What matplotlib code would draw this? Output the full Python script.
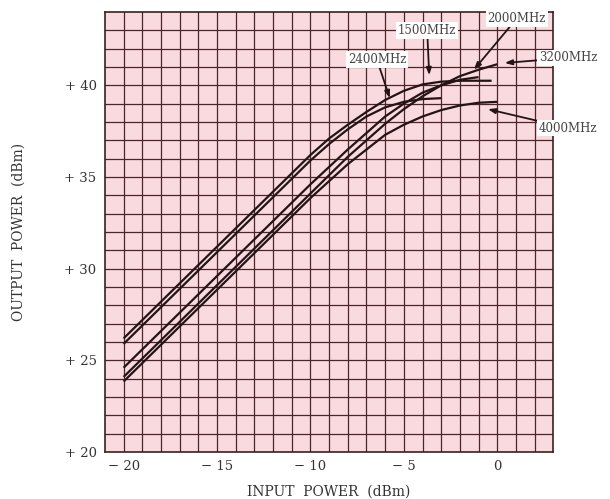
import matplotlib
matplotlib.use("Agg")
import matplotlib.pyplot as plt
import numpy as np

plt.rcParams['font.family'] = ['DejaVu Serif']

# input power (dBm) / output power (dBm) per frequency
x_1500 = [-20, -10, -9, -8, -7, -6, -5, -4, -3, -2, -0.3]
y_1500 = [26.2, 36.2, 37.1, 37.85, 38.55, 39.2, 39.7, 40.05, 40.2, 40.25, 40.25]

x_2400 = [-20, -10, -9, -8, -7, -6, -5, -4, -3]
y_2400 = [25.9, 35.9, 36.8, 37.6, 38.3, 38.8, 39.1, 39.25, 39.3]

x_2000 = [-20, -10, -8, -7, -6, -5, -4, -3, -2, -1]
y_2000 = [24.6, 34.6, 36.5, 37.4, 38.3, 39.0, 39.6, 40.0, 40.3, 40.45]

x_3200 = [-20, -10, -8, -7, -6, -5, -4, -3, -2, -1, 0]
y_3200 = [24.1, 34.1, 36.1, 37.0, 37.9, 38.7, 39.4, 40.0, 40.5, 40.85, 41.15]

x_4000 = [-20, -10, -8, -7, -6, -5, -4, -3, -2, -1, 0]
y_4000 = [23.85, 33.85, 35.7, 36.5, 37.3, 37.85, 38.3, 38.65, 38.9, 39.05, 39.1]

x_ticks = [-20, -15, -10, -5, 0]
x_labels = ['\u2212 20', '\u2212 15', '\u2212 10', '\u2212 5', '0']
y_ticks = [20, 25, 30, 35, 40]
y_labels = ['+ 20', '+ 25', '+ 30', '+ 35', '+ 40']

fig = plt.figure(figsize=(6.1, 4.99), dpi=100)
ax = fig.add_axes([0.172, 0.094, 0.735, 0.882])
ax.set_facecolor('#f9dade')
ax.set_xlim(-21, 3)
ax.set_ylim(20, 44)

# 1 dB grid
for v in range(-20, 3):
    ax.axvline(v, color='#4a2628', lw=0.9, zorder=1)
for v in range(21, 44):
    ax.axhline(v, color='#4a2628', lw=0.9, zorder=1)
for s in ax.spines.values():
    s.set_color('#3a2022')
    s.set_linewidth(1.2)

line_kw = dict(color='#241416', lw=1.6, zorder=3, solid_capstyle='butt')
ax.plot(x_1500, y_1500, **line_kw)
ax.plot(x_2400, y_2400, **line_kw)
ax.plot(x_2000, y_2000, **line_kw)
ax.plot(x_3200, y_3200, **line_kw)
ax.plot(x_4000, y_4000, **line_kw)

ax.set_xticks(x_ticks)
ax.set_xticklabels(x_labels)
ax.set_yticks(y_ticks)
ax.set_yticklabels(y_labels)
ax.tick_params(length=0, labelsize=9.5, colors='#333333', pad=6)
ax.set_xlabel('INPUT  POWER  (dBm)', fontsize=10, color='#333333', labelpad=8)
ax.set_ylabel('OUTPUT  POWER  (dBm)', fontsize=10, color='#333333', labelpad=28)

box = dict(boxstyle='square,pad=0.15', fc='white', ec='none')
arr = dict(arrowstyle='-|>,head_length=0.5,head_width=0.18', color='#241416', lw=1.3,
           shrinkA=0, shrinkB=0)
ann_kw = dict(fontsize=8.5, color='#444444', ha='center', va='center', bbox=box,
              arrowprops=arr, annotation_clip=False, zorder=5)
ax.annotate('1500MHz', xy=(-3.64, 40.55), xytext=(-3.75, 43.0), **ann_kw)
ax.annotate('2000MHz', xy=(-1.25, 40.85), xytext=(1.05, 43.65), **ann_kw)
ax.annotate('2400MHz', xy=(-5.75, 39.3), xytext=(-6.44, 41.4), **ann_kw)
ax.annotate('3200MHz', xy=(0.4, 41.22), xytext=(3.8, 41.5), **ann_kw)
ax.annotate('4000MHz', xy=(-0.5, 38.7), xytext=(3.8, 37.67), **ann_kw)

fig.savefig('out.png', dpi=100)
